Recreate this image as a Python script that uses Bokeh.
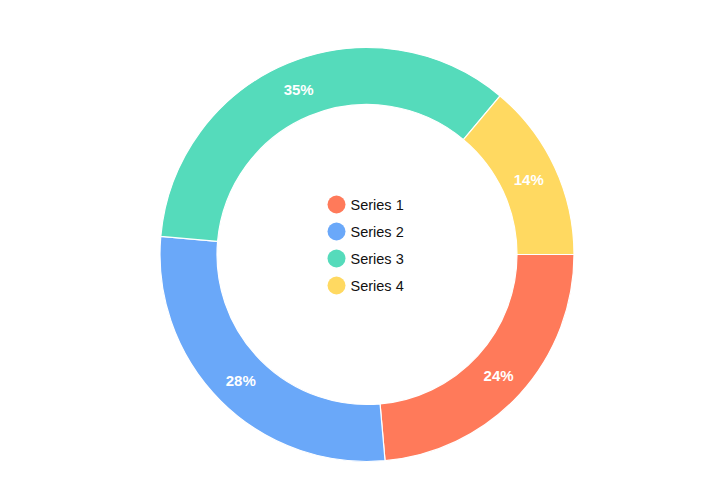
import math
from bokeh.plotting import figure
from bokeh.models import ColumnDataSource, Range1d
from bokeh.core.properties import value
from bokeh.embed import file_html
from bokeh.resources import INLINE

# Data
series = ["Series 1", "Series 2", "Series 3", "Series 4"]
values = [17, 20, 25, 10]
colors = ["#FF7A5A", "#6AA8F9", "#55DBBB", "#FFD961"]

W, H = 709, 497
cx, cy = 366.5, H - 254
r_out, r_in = 207, 150

total = sum(values)
starts, ends, lx, ly, labels = [], [], [], [], []
acc = 0.0
for v in values:
    a0 = acc / total * 2 * math.pi
    acc += v
    a1 = acc / total * 2 * math.pi
    starts.append(-a0)
    ends.append(-a1)
    mid = (a0 + a1) / 2
    rm = (r_out + r_in) / 2
    lx.append(cx + rm * math.cos(-mid))
    ly.append(cy + rm * math.sin(-mid))
    labels.append(f"{round(v / total * 100)}%")

src = ColumnDataSource(dict(start=starts, end=ends, color=colors,
                            lx=lx, ly=ly, label=labels, name=series))

p = figure(width=W, height=H, output_backend="svg", toolbar_location=None,
           x_range=Range1d(0, W), y_range=Range1d(0, H),
           min_border=0, outline_line_color=None)
p.axis.visible = False
p.grid.visible = False
p.background_fill_color = "white"
p.border_fill_color = "white"

p.annular_wedge(x=cx, y=cy, inner_radius=r_in, outer_radius=r_out,
                start_angle="start", end_angle="end", direction="clock",
                fill_color="color", line_color="white", line_width=1.2,
                source=src)

p.text(x="lx", y="ly", text="label", source=src, text_color="white",
       text_font=value("Liberation Sans"), text_font_style="bold",
       text_font_size="15px", text_align="center", text_baseline="middle")

# Legend in the center
leg_y = [H - 204 - 27 * i for i in range(len(series))]
leg_src = ColumnDataSource(dict(x=[336] * len(series), y=leg_y,
                                tx=[350] * len(series), name=series, color=colors))
p.scatter(x="x", y="y", size=18, fill_color="color", line_color=None, source=leg_src)
p.text(x="tx", y="y", text="name", source=leg_src, text_color="#111111",
       text_font=value("Liberation Sans"), text_font_size="14.5px",
       text_align="left", text_baseline="middle")

open("out.html", "w").write(file_html(p, INLINE))
